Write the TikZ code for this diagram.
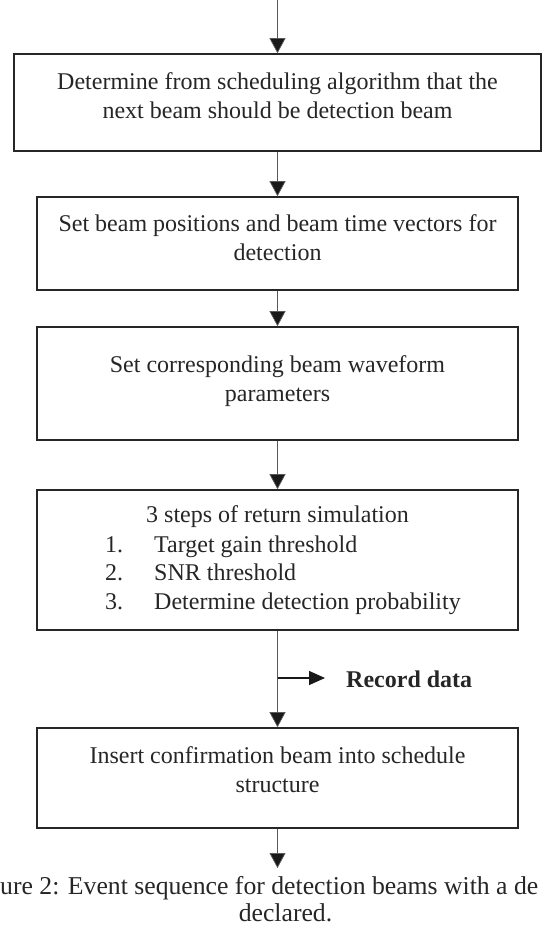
\documentclass[tikz,border=0pt]{standalone}
\usepackage{fontspec}
\setmainfont{Liberation Serif}
\usetikzlibrary{arrows.meta}
\tikzset{
  box/.style={draw=black!85, line width=1.6pt, inner sep=0pt, rectangle},
  flow/.style={draw=black!65, line width=0.7pt, -{Triangle[width=16pt,length=15pt,fill=black!90]}},
  side/.style={draw=black!90, line width=1.4pt, -{Triangle[width=14pt,length=16pt,fill=black!90]}},
  txt/.style={inner sep=0pt, anchor=base, font=\fontsize{24}{29}\selectfont, text=black!85},
  captxt/.style={inner sep=0pt, font=\fontsize{25.7}{27}\selectfont, text=black!85},
}
\begin{document}
\begin{tikzpicture}[x=1pt,y=-1pt]
\useasboundingbox (0,0) rectangle (542,928);
% boxes
\node[box, minimum width=527pt, minimum height=97pt] (b1) at (277.5,102.5) {};
\node[box, minimum width=481pt, minimum height=93pt] (b2) at (277.5,243.5) {};
\node[box, minimum width=481pt, minimum height=113pt] (b3) at (277.5,383.5) {};
\node[box, minimum width=481pt, minimum height=140pt] (b4) at (277.5,560) {};
\node[box, minimum width=481pt, minimum height=100pt] (b5) at (277.5,778) {};
% texts
\node[txt] (t1a) at (277.5,90) {Determine from scheduling algorithm that the};
\node[txt] (t1b) at (277.5,119) {next beam should be detection beam};
\node[txt] (t2a) at (277.5,231) {Set beam positions and beam time vectors for};
\node[txt] (t2b) at (277.5,260) {detection};
\node[txt] (t3a) at (277.5,372) {Set corresponding beam waveform};
\node[txt] (t3b) at (277.5,401) {parameters};
\node[txt] (t4a) at (277.5,522) {3 steps of return simulation};
\node[txt, anchor=base west] (n1) at (105,552) {1.};
\node[txt, anchor=base west] (n2) at (105,580.5) {2.};
\node[txt, anchor=base west] (n3) at (105,609) {3.};
\node[txt, anchor=base west] (l1) at (154,552) {Target gain threshold};
\node[txt, anchor=base west] (l2) at (154,580.5) {SNR threshold};
\node[txt, anchor=base west] (l3) at (154,609) {Determine detection probability};
\node[txt] (t5a) at (277.5,763) {Insert confirmation beam into schedule};
\node[txt] (t5b) at (277.5,792) {structure};
% record data
\node[txt, anchor=base west, font=\fontsize{24}{29}\selectfont\bfseries] (rd) at (346,687) {Record data};
\coordinate (rs) at (277.5,678);
\coordinate (re) at (325,678);
% caption
\node[captxt, anchor=base west] (c1) at (0,894) {ure 2: Event sequence for detection beams with a de};
\node[captxt, anchor=base] (c2) at (285.5,921) {declared.};
% connectors
\coordinate (top) at (277.5,0);
\coordinate (bot) at (277.5,868);
\draw[flow] (top) -- (b1.north);
\draw[flow] (b1.south) -- (b2.north);
\draw[flow] (b2.south) -- (b3.north);
\draw[flow] (b3.south) -- (b4.north);
\draw[flow] (b4.south) -- (b5.north);
\draw[flow] (b5.south) -- (bot);
\draw[side] (rs) -- (re);
\end{tikzpicture}
\end{document}
